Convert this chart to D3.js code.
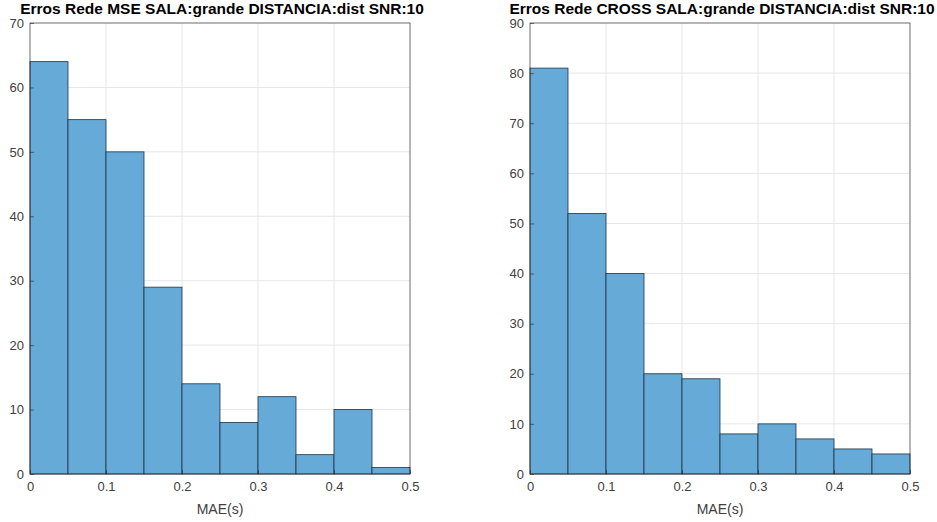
<!DOCTYPE html>
<html>
<head>
<meta charset="utf-8">
<script src="https://cdn.jsdelivr.net/npm/d3@7"></script>
<style>
  body { margin: 0; background: #fff; }
  svg { font-family: "Liberation Sans", Arial, sans-serif; }
</style>
</head>
<body>
<svg id="chart" width="937" height="522"></svg>
<script>
// bin edges shared by both histograms
const binEdges = [0, 0.05, 0.1, 0.15, 0.2, 0.25, 0.3, 0.35, 0.4, 0.45, 0.5];
const mseCounts = [64, 55, 50, 29, 14, 8, 12, 3, 10, 1];
const crossCounts = [81, 52, 40, 20, 19, 8, 10, 7, 5, 4];
const xTicks = [0, 0.1, 0.2, 0.3, 0.4, 0.5];
const mseYTicks = [0, 10, 20, 30, 40, 50, 60, 70];
const crossYTicks = [0, 10, 20, 30, 40, 50, 60, 70, 80, 90];

const svg = d3.select('#chart');

function drawHist(cfg) {
  const { left, right, top, bottom, counts, yTicks, title } = cfg;
  const x = d3.scaleLinear().domain([0, 0.5]).range([left, right]);
  const y = d3.scaleLinear().domain([0, d3.max(yTicks)]).range([bottom, top]);
  const g = svg.append('g');

  // grid
  g.selectAll('.gx').data(xTicks).enter().append('line')
    .attr('x1', d => x(d)).attr('x2', d => x(d))
    .attr('y1', top).attr('y2', bottom)
    .attr('stroke', '#e6e6e6').attr('stroke-width', 1);
  g.selectAll('.gy').data(yTicks).enter().append('line')
    .attr('x1', left).attr('x2', right)
    .attr('y1', d => y(d)).attr('y2', d => y(d))
    .attr('stroke', '#e6e6e6').attr('stroke-width', 1);

  // bars
  g.selectAll('rect.bar').data(counts).enter().append('rect')
    .attr('class', 'bar')
    .attr('x', (d, i) => x(binEdges[i]))
    .attr('width', (d, i) => x(binEdges[i + 1]) - x(binEdges[i]))
    .attr('y', d => y(d))
    .attr('height', d => bottom - y(d))
    .attr('fill', '#66aad7')
    .attr('stroke', '#1f3347')
    .attr('stroke-width', 0.8);

  // box
  g.append('rect')
    .attr('x', left).attr('y', top)
    .attr('width', right - left).attr('height', bottom - top)
    .attr('fill', 'none').attr('stroke', '#262626').attr('stroke-width', 0.6);

  // axes
  const xAxis = d3.axisBottom(x).tickValues(xTicks).tickSize(-4).tickPadding(8)
    .tickFormat(d => d === 0 ? '0' : d3.format('.1f')(d));
  const ax = g.append('g').attr('transform', `translate(0,${bottom})`).call(xAxis);
  const yAxis = d3.axisLeft(y).tickValues(yTicks).tickSize(-4).tickPadding(6);
  const ay = g.append('g').attr('transform', `translate(${left},0)`).call(yAxis);
  [ax, ay].forEach(a => {
    a.select('.domain').remove();
    a.selectAll('line').attr('stroke', '#262626').attr('stroke-width', 0.6);
    a.selectAll('text').attr('fill', '#404040').style('font-size', '13px');
  });

  g.append('text')
    .attr('x', (left + right) / 2).attr('y', 514)
    .attr('text-anchor', 'middle')
    .attr('fill', '#404040')
    .style('font-size', '14px')
    .text('MAE(s)');

  g.append('text')
    .attr('x', (left + right) / 2 + 2).attr('y', 14)
    .attr('text-anchor', 'middle')
    .attr('fill', '#000')
    .style('font-size', '15.5px')
    .style('font-weight', 'bold')
    .text(title);
}

drawHist({ left: 30, right: 410, top: 23, bottom: 474, counts: mseCounts, yTicks: mseYTicks,
  title: 'Erros Rede MSE SALA:grande DISTANCIA:dist SNR:10' });
drawHist({ left: 530, right: 910, top: 23, bottom: 474, counts: crossCounts, yTicks: crossYTicks,
  title: 'Erros Rede CROSS SALA:grande DISTANCIA:dist SNR:10' });
</script>
</body>
</html>
